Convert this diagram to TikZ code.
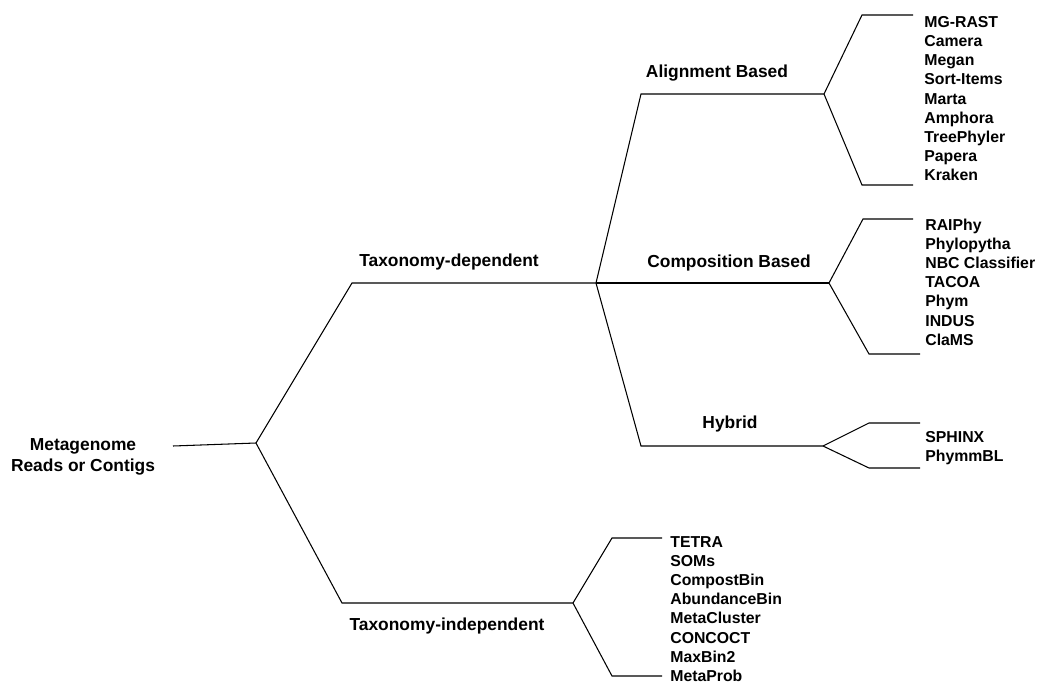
\documentclass[tikz,border=0pt]{standalone}
\usepackage{fontspec}
\setmainfont{Liberation Sans}

\begin{document}
\begin{tikzpicture}[x=0.02cm, y=-0.02cm,
    branch/.style={draw=black, line width=0.6pt},
    group/.style={anchor=base, inner sep=0pt, font=\fontsize{9.9}{12.2}\selectfont\bfseries},
    tool/.style={anchor=base west, inner sep=0pt, font=\fontsize{9}{10.8}\selectfont\bfseries}]
  \useasboundingbox (0,0) rectangle (1039,684);

  \node[group, anchor=center, align=center] (reads) at (83,457) {Metagenome\\Reads or Contigs};
  \node[group] (dep) at (449,266.7) {Taxonomy-dependent};
  \node[group] (indep) at (447,630.7) {Taxonomy-independent};
  \node[group] (align) at (717,77.3) {Alignment Based};
  \node[group] (comp) at (729,267.7) {Composition Based};
  \node[group] (hyb) at (730,428.3) {Hybrid};

  \foreach \t [count=\i from 0] in {MG-RAST,Camera,Megan,Sort-Items,Marta,Amphora,TreePhyler,Papera,Kraken}
    \node[tool] (aln\i) at (924,{27.3+19.2*\i}) {\t};
  \foreach \t [count=\i from 0] in {RAIPhy,Phylopytha,NBC Classifier,TACOA,Phym,INDUS,ClaMS}
    \node[tool] (cmp\i) at (925,{230+19.2*\i}) {\t};
  \foreach \t [count=\i from 0] in {SPHINX,PhymmBL}
    \node[tool] (hyb\i) at (925,{442.7+19.2*\i}) {\t};
  \foreach \t [count=\i from 0] in {TETRA,SOMs,CompostBin,AbundanceBin,MetaCluster,CONCOCT,MaxBin2,MetaProb}
    \node[tool] (ind\i) at (670,{547.3+19.15*\i}) {\t};

  \coordinate (rootend) at (173,446);
  \coordinate (root) at (256,443);
  \coordinate (dep0) at (352,283);
  \coordinate (dep1) at (596,283);
  \coordinate (indep0) at (342,603);
  \coordinate (indep1) at (573,603);
  \coordinate (align0) at (641,94);
  \coordinate (align1) at (824,94);
  \coordinate (comp1) at (829,283);
  \coordinate (hyb0) at (641,446);
  \coordinate (hyb1) at (823,446);
  \coordinate (alntop) at (862,15);
  \coordinate (alntopend) at (913,15);
  \coordinate (alnbot) at (862,185);
  \coordinate (alnbotend) at (913,185);
  \coordinate (cmptop) at (863,219);
  \coordinate (cmptopend) at (913,219);
  \coordinate (cmpbot) at (869,354);
  \coordinate (cmpbotend) at (920,354);
  \coordinate (hybtop) at (869,423);
  \coordinate (hybtopend) at (920,423);
  \coordinate (hybbot) at (869,468);
  \coordinate (hybbotend) at (920,468);
  \coordinate (indtop) at (612,538);
  \coordinate (indtopend) at (662,538);
  \coordinate (indbot) at (612,676);
  \coordinate (indbotend) at (662,676);

  \draw[branch] (rootend) -- (root);
  \draw[branch] (root) -- (dep0) -- (dep1);
  \draw[branch] (root) -- (indep0) -- (indep1);
  \draw[branch] (dep1) -- (align0) -- (align1);
  \draw[branch] (dep1) -- (comp1);
  \draw[branch] (dep1) -- (hyb0) -- (hyb1);
  \draw[branch] (align1) -- (alntop) -- (alntopend);
  \draw[branch] (align1) -- (alnbot) -- (alnbotend);
  \draw[branch] (comp1) -- (cmptop) -- (cmptopend);
  \draw[branch] (comp1) -- (cmpbot) -- (cmpbotend);
  \draw[branch] (hyb1) -- (hybtop) -- (hybtopend);
  \draw[branch] (hyb1) -- (hybbot) -- (hybbotend);
  \draw[branch] (indep1) -- (indtop) -- (indtopend);
  \draw[branch] (indep1) -- (indbot) -- (indbotend);
\end{tikzpicture}
\end{document}
